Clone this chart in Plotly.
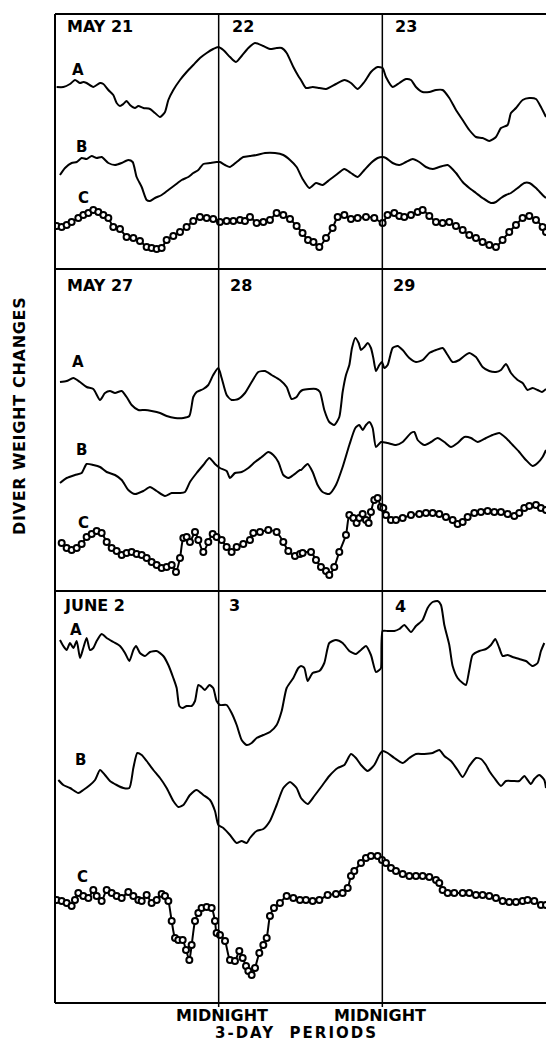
import plotly.graph_objects as go

# Diver weight records, three 3-day periods; hours from start of each period
# Values are relative weight readings on each panel's own scale.

# ---- Period 1: May 21-23 ----
may21_a_hours = [0.24, 1.22, 2.2, 2.93, 3.67, 4.15, 4.64, 5.62, 6.6, 7.09, 7.82, 8.55, 9.04, 9.53, 10.02, 10.5, 11.0, 11.73,
                 12.22, 12.95, 13.93, 14.66, 15.4, 16.13, 16.62, 17.35, 18.33, 19.3, 20.28, 21.26, 22.24, 23.2, 23.95,
                 24.68, 25.66, 26.54, 27.37, 28.35, 29.33, 30.55, 31.52, 32.5, 33.24, 33.97, 34.95, 35.68, 36.07, 36.8,
                 37.78, 38.76, 39.74, 41.2, 42.43, 43.4, 44.38, 45.36, 46.33, 47.31, 48.04, 48.53, 49.51, 50.49, 51.47,
                 52.2, 52.93, 53.9, 54.89, 55.87, 56.84, 57.82, 58.8, 59.78, 60.75, 61.73, 62.7, 63.68, 64.66, 65.4,
                 66.37, 66.86, 67.6, 68.57, 69.55, 70.53, 71.26, 72.0]
may21_a = [182, 182, 185, 189, 186, 187, 186, 182, 186, 185, 179, 174, 166, 163, 165, 168, 164, 161,
           163, 161, 160, 156, 152, 157, 169, 179, 189, 197, 204, 211, 216, 220, 222,
           219, 212, 207, 213, 221, 226, 223, 220, 221, 221, 216, 202, 193, 189, 181,
           182, 181, 180, 185, 189, 186, 180, 187, 197, 202, 201, 192, 182, 186, 190,
           189, 182, 177, 177, 179, 179, 171, 159, 149, 139, 132, 131, 128, 132, 141,
           144, 156, 161, 169, 171, 170, 162, 152]

may21_b_hours = [0.73, 1.47, 2.44, 3.18, 3.91, 4.64, 5.38, 6.11, 6.84, 7.82, 8.8, 9.78, 10.75, 11.39, 11.97, 12.71, 13.44,
                 13.93, 14.66, 15.64, 16.62, 17.6, 18.57, 19.55, 20.28, 21.02, 21.75, 22.73, 23.7, 24.19, 24.93, 25.66,
                 26.64, 27.61, 28.59, 29.57, 30.79, 32.26, 33.48, 34.46, 35.43, 36.31, 37.29, 38.27, 39.24, 40.22,
                 41.2, 42.43, 43.4, 44.38, 45.36, 46.33, 47.31, 48.04, 48.53, 49.51, 50.49, 51.47, 52.45, 53.42, 54.4,
                 55.38, 56.35, 57.58, 58.8, 59.78, 60.75, 61.73, 62.7, 63.92, 64.66, 65.4, 66.13, 66.86, 67.84, 68.82,
                 69.55, 70.53, 71.5, 72.0]
may21_b = [94, 101, 106, 107, 111, 110, 113, 111, 112, 106, 104, 106, 109, 107, 92, 82, 69,
           68, 71, 74, 79, 84, 89, 92, 96, 99, 105, 106, 107, 107, 104, 102,
           107, 112, 113, 114, 116, 116, 114, 109, 102, 90, 81, 86, 84, 89,
           94, 100, 96, 92, 99, 106, 111, 112, 111, 106, 104, 107, 110, 107, 102,
           100, 102, 104, 96, 87, 81, 76, 71, 66, 67, 71, 74, 76, 81, 86,
           86, 81, 74, 71]

may21_c_hours = [0.24, 0.98, 1.71, 2.44, 3.42, 4.15, 4.89, 5.62, 6.35, 7.09, 7.82, 8.55, 9.53, 10.5, 11.49, 12.46, 13.44,
                 14.17, 14.91, 15.64, 16.37, 17.35, 18.33, 19.3, 20.28, 21.26, 22.24, 23.2, 24.19, 25.17, 26.15, 27.13,
                 27.86, 28.59, 29.57, 30.55, 31.52, 32.5, 33.48, 34.46, 35.43, 36.3, 37.1, 37.9, 38.76, 39.74, 40.71,
                 41.45, 42.43, 43.4, 44.38, 45.6, 46.82, 48.04, 48.77, 49.75, 50.49, 51.22, 52.2, 53.18, 53.91, 54.89,
                 55.87, 56.84, 57.82, 58.8, 59.78, 60.75, 61.73, 62.7, 63.68, 64.66, 65.63, 66.61, 67.6, 68.57, 69.55,
                 70.53, 71.5, 72.0]
may21_c = [43, 42, 44, 47, 51, 54, 56, 59, 57, 54, 51, 42, 40, 32, 31, 28, 22,
           21, 20, 21, 29, 33, 37, 42, 48, 52, 51, 50, 47, 48, 48, 49,
           48, 52, 46, 47, 49, 56, 54, 50, 43, 36, 29, 27, 22, 31, 41,
           52, 54, 50, 51, 52, 51, 46, 54, 56, 53, 52, 54, 57, 59, 53,
           47, 46, 47, 43, 39, 34, 31, 27, 24, 22, 29, 37, 44, 51, 53,
           49, 42, 37]

# ---- Period 2: May 27-29 ----
may27_a_hours = [0.73, 1.71, 2.69, 3.67, 4.64, 5.62, 6.6, 7.33, 8.06, 8.8, 9.78, 10.5, 11.24, 12.22, 13.2, 14.17, 15.4,
                 16.37, 17.6, 18.82, 19.7, 20.28, 20.77, 21.75, 22.48, 23.2, 23.95, 24.44, 25.17, 25.9, 26.88, 27.86,
                 28.84, 29.81, 30.79, 31.77, 32.99, 33.97, 34.7, 35.43, 35.92, 36.31, 37.29, 38.27, 38.85, 39.49,
                 40.22, 40.95, 41.69, 42.18, 42.67, 43.16, 43.55, 44.04, 44.53, 44.87, 45.36, 45.85, 46.33, 46.68,
                 47.07, 47.56, 47.95, 48.29, 48.78, 49.51, 50.24, 50.98, 51.96, 52.93, 53.91, 54.89, 55.87, 56.84,
                 57.58, 58.31, 59.29, 60.02, 60.75, 61.73, 62.7, 63.68, 64.66, 65.4, 66.13, 66.86, 67.84, 68.57, 69.3,
                 70.04, 70.77, 71.41, 72.0]
may27_a = [209, 210, 213, 209, 204, 202, 191, 198, 200, 198, 200, 194, 186, 181, 181, 180, 178,
           175, 173, 173, 175, 194, 199, 202, 206, 216, 223, 213, 196, 191, 192, 198,
           209, 219, 220, 216, 211, 204, 192, 194, 199, 201, 202, 202, 199, 181,
           169, 166, 174, 199, 216, 226, 243, 253, 248, 241, 244, 248, 243, 233,
           220, 226, 229, 223, 226, 243, 245, 241, 233, 229, 231, 238, 241, 243,
           236, 229, 231, 235, 238, 234, 224, 220, 219, 221, 227, 218, 211, 208, 201,
           203, 201, 199, 202]

may27_b_hours = [0.73, 1.71, 2.93, 3.91, 4.64, 5.62, 6.6, 7.58, 8.8, 9.78, 10.75, 11.73, 12.95, 13.93, 14.91, 16.13, 17.11,
                 18.33, 19.06, 19.79, 20.77, 21.75, 22.63, 23.46, 24.19, 25.17, 25.66, 26.39, 27.37, 28.35, 29.33, 30.3,
                 31.28, 32.01, 32.75, 33.48, 34.21, 34.95, 35.92, 36.07, 37.05, 37.78, 38.51, 39.24, 40.22, 41.2,
                 42.18, 43.16, 44.04, 44.62, 45.11, 45.6, 46.09, 46.58, 47.07, 47.8, 48.78, 50.0, 50.98, 52.2, 52.69,
                 53.18, 54.15, 55.13, 56.11, 57.09, 58.06, 59.04, 60.02, 61.0, 61.98, 63.2, 64.17, 65.15, 66.13, 67.11,
                 68.08, 69.06, 70.04, 70.77, 71.5, 72.0]
may27_b = [108, 113, 116, 118, 127, 126, 124, 119, 116, 111, 101, 97, 100, 104, 100, 95, 98,
           98, 99, 109, 118, 126, 133, 127, 123, 120, 113, 118, 119, 123, 129, 134,
           139, 136, 129, 116, 113, 116, 121, 121, 127, 119, 106, 99, 97, 106,
           124, 146, 163, 166, 161, 166, 169, 163, 144, 149, 148, 146, 149, 158, 159,
           151, 146, 149, 153, 149, 144, 148, 154, 153, 149, 153, 156, 158, 153, 146,
           139, 131, 125, 128, 134, 141]

may27_c_hours = [0.98, 1.71, 2.44, 3.18, 3.91, 4.64, 5.38, 6.11, 6.84, 7.58, 8.31, 9.04, 9.78, 10.5, 11.24, 11.97, 12.71,
                 13.44, 14.17, 14.91, 15.64, 16.37, 17.11, 17.74, 18.33, 18.82, 19.31, 19.79, 20.53, 21.02, 21.75,
                 22.48, 23.12, 23.7, 24.44, 25.17, 25.9, 26.64, 27.61, 28.59, 29.08, 30.06, 31.28, 32.5, 33.48, 34.21,
                 35.19, 35.92, 36.31, 37.54, 38.27, 39.0, 39.74, 40.22, 40.95, 41.69, 42.67, 43.16, 43.74, 44.23,
                 44.62, 45.11, 45.6, 45.99, 46.33, 46.82, 47.31, 47.8, 48.14, 48.53, 49.27, 50.0, 50.98, 52.2, 53.42,
                 54.4, 55.38, 56.35, 57.33, 58.31, 59.04, 59.78, 60.51, 61.49, 62.46, 63.44, 64.42, 65.4, 66.37, 67.35,
                 68.08, 68.82, 69.55, 70.53, 71.26, 72.0]
may27_c = [48, 43, 41, 43, 47, 54, 57, 60, 58, 49, 43, 40, 36, 38, 39, 37, 36,
           33, 29, 26, 23, 24, 26, 19, 33, 53, 54, 49, 59, 51, 39,
           49, 57, 54, 51, 44, 39, 44, 47, 51, 58, 59, 61, 59, 49, 40,
           35, 37, 38, 39, 31, 24, 20, 16, 24, 39, 56, 76, 73, 68,
           73, 77, 71, 68, 79, 91, 93, 84, 83, 76, 71, 71, 73, 76, 77,
           78, 78, 77, 74, 71, 67, 69, 74, 78, 79, 80, 79, 79, 77, 75,
           78, 83, 85, 86, 83, 81]

# ---- Period 3: June 2-4 ----
jun2_a_hours = [0.73, 1.22, 1.71, 2.2, 2.69, 3.18, 3.67, 4.15, 4.64, 5.13, 5.62, 6.11, 6.84, 7.58, 8.55, 9.53, 10.26, 10.9,
                11.49, 11.88, 12.46, 13.2, 13.93, 14.91, 15.88, 16.62, 17.35, 17.84, 18.23, 18.72, 19.31, 20.04, 20.53,
                21.02, 21.5, 21.99, 22.63, 23.2, 23.7, 24.19, 25.17, 25.9, 26.64, 27.37, 28.1, 28.84, 29.57, 30.55,
                31.52, 32.5, 33.24, 33.97, 34.95, 35.68, 36.07, 36.56, 37.05, 37.78, 38.76, 39.49, 40.22, 41.2, 42.18,
                43.16, 44.13, 44.87, 45.6, 46.33, 47.07, 47.56, 47.8, 48.04, 48.78, 49.76, 50.49, 51.22, 52.2, 52.93,
                53.91, 54.64, 55.38, 56.11, 56.6, 57.09, 57.82, 58.31, 59.04, 59.78, 60.26, 60.75, 61.24, 62.22, 63.2,
                63.93, 64.56, 65.15, 65.64, 66.37, 67.11, 68.08, 69.06, 70.04, 70.77, 71.26, 71.75]
jun2_a = [363, 357, 353, 360, 355, 362, 345, 355, 365, 353, 355, 362, 369, 365, 361, 357, 350, 342,
          353, 357, 350, 347, 351, 352, 347, 338, 325, 315, 297, 295, 297, 297, 302,
          318, 316, 313, 318, 315, 302, 298, 298, 290, 278, 263, 258, 260, 265, 268,
          271, 278, 292, 315, 325, 335, 337, 335, 322, 330, 332, 340, 360, 363, 360,
          352, 349, 353, 357, 348, 331, 333, 335, 372, 372, 372, 374, 378, 371, 377,
          383, 395, 401, 402, 398, 378, 358, 337, 325, 320, 318, 333, 348, 352, 354,
          358, 364, 355, 347, 348, 346, 344, 342, 337, 340, 352, 360]

jun2_b_hours = [0.49, 1.22, 2.2, 3.42, 4.15, 5.13, 5.87, 6.6, 7.33, 8.06, 9.04, 10.02, 10.9, 11.49, 12.07, 12.71, 13.44,
                14.42, 15.4, 16.37, 17.35, 18.08, 18.82, 19.79, 20.77, 21.75, 22.73, 23.46, 23.95, 24.68, 25.66, 26.64,
                27.37, 28.1, 28.59, 29.57, 30.55, 31.52, 32.5, 33.48, 34.46, 35.43, 36.07, 37.05, 38.02, 39.24, 40.22,
                41.45, 42.43, 43.4, 44.13, 44.87, 45.85, 46.82, 47.56, 48.04, 48.78, 49.76, 50.98, 51.96, 52.93, 54.15,
                55.38, 56.35, 57.09, 58.06, 59.04, 59.78, 60.75, 61.73, 62.46, 63.2, 63.68, 64.42, 65.4, 66.13, 67.11,
                68.08, 68.82, 69.3, 69.79, 70.28, 71.02, 71.75, 72.0]
jun2_b = [223, 218, 215, 210, 213, 218, 223, 233, 228, 222, 218, 215, 215, 235, 250, 248, 242,
          233, 225, 215, 202, 196, 198, 208, 213, 208, 203, 192, 178, 175, 168, 160,
          162, 160, 165, 172, 174, 182, 198, 215, 221, 215, 205, 199, 207, 218, 227,
          235, 238, 249, 245, 238, 232, 238, 248, 252, 250, 245, 240, 245, 249, 249,
          250, 253, 247, 242, 233, 226, 237, 245, 244, 238, 232, 225, 217, 222, 222,
          222, 227, 223, 219, 224, 228, 223, 215]

jun2_c_hours = [0.24, 0.98, 1.71, 2.44, 2.93, 3.42, 4.15, 4.89, 5.62, 6.11, 6.84, 7.58, 8.31, 9.04, 9.78, 10.75, 11.49,
                12.22, 12.71, 13.44, 14.17, 14.91, 15.64, 16.13, 16.62, 17.11, 17.6, 18.08, 18.72, 19.21, 19.7, 20.04,
                20.53, 21.02, 21.5, 22.24, 22.97, 23.46, 23.7, 24.19, 24.93, 25.66, 26.39, 27.03, 27.52, 28.01, 28.35,
                28.84, 29.33, 29.96, 30.55, 31.04, 31.52, 32.11, 32.99, 33.97, 34.95, 35.92, 36.8, 37.78, 38.76, 39.98,
                41.2, 42.18, 42.92, 43.4, 43.89, 44.87, 45.6, 46.33, 47.31, 47.95, 48.53, 49.27, 50.0, 50.98, 51.96,
                52.93, 53.91, 54.89, 55.87, 56.35, 56.84, 57.58, 58.55, 59.78, 60.75, 61.73, 62.7, 63.68, 64.66, 65.64,
                66.61, 67.6, 68.57, 69.3, 70.28, 71.26, 72.0]
jun2_c = [103, 102, 100, 97, 103, 110, 107, 105, 113, 107, 102, 113, 110, 107, 105, 111, 107,
          103, 102, 108, 100, 103, 109, 107, 102, 82, 65, 63, 63, 53, 43, 58,
          82, 90, 95, 96, 95, 82, 70, 68, 62, 43, 42, 52, 45, 37, 32,
          28, 35, 50, 58, 65, 87, 95, 100, 107, 105, 103, 103, 102, 103, 108,
          109, 110, 115, 127, 132, 140, 145, 147, 147, 143, 140, 135, 132, 129, 127,
          127, 127, 126, 123, 120, 113, 110, 110, 110, 110, 108, 108, 107, 105, 102,
          101, 101, 102, 103, 102, 98, 98]

panel_dates = [["MAY 21", "22", "23"], ["MAY 27", "28", "29"], ["JUNE 2", "3", "4"]]
curve_names = ["A", "B", "C"]

# ---- figure geometry (pixels) ----
W, H = 546, 1044
LEFT, TOP, BOTTOM = 55, 14, 1003
plot_h = BOTTOM - TOP
# panel boundaries from top: 14 | 269 | 591 | 1003
bounds_px = [(14, 269), (269, 591), (591, 1003)]
FONT = "DejaVu Sans"


def py(p):
    """pixel row -> paper y"""
    return (BOTTOM - p) / plot_h


def px(p):
    """pixel column -> paper x"""
    return (p - LEFT) / (W - LEFT)


fig = go.Figure()

series = [
    [(may21_a_hours, may21_a), (may21_b_hours, may21_b), (may21_c_hours, may21_c)],
    [(may27_a_hours, may27_a), (may27_b_hours, may27_b), (may27_c_hours, may27_c)],
    [(jun2_a_hours, jun2_a), (jun2_b_hours, jun2_b), (jun2_c_hours, jun2_c)],
]
yaxes = ["y", "y2", "y3"]

for i, panel in enumerate(series):
    for j, (hrs, vals) in enumerate(panel):
        is_c = j == 2
        fig.add_trace(go.Scatter(
            x=hrs, y=vals, xaxis="x", yaxis=yaxes[i],
            mode="lines+markers" if is_c else "lines",
            line=dict(color="black", width=2, shape="spline", smoothing=0.6),
            marker=dict(symbol="circle", size=6, color="white",
                        line=dict(color="black", width=2)) if is_c else None,
            showlegend=False, hoverinfo="skip", cliponaxis=True,
        ))

layout_axes = {}
for i, (t, b) in enumerate(bounds_px):
    key = "yaxis" if i == 0 else f"yaxis{i + 1}"
    layout_axes[key] = dict(
        domain=[py(b), py(t)], range=[0, b - t], anchor="x",
        showgrid=False, zeroline=False, showticklabels=False, ticks="", showline=False,
        fixedrange=True,
    )

fig.update_layout(
    width=W, height=H,
    margin=dict(l=LEFT, r=0, t=TOP, b=H - BOTTOM, pad=0),
    paper_bgcolor="white", plot_bgcolor="white",
    xaxis=dict(range=[0, 72], showgrid=False, zeroline=False, showticklabels=False,
               ticks="", showline=False, fixedrange=True, domain=[0, 1]),
    **layout_axes,
    font=dict(family=FONT, color="black"),
)

# frame and separators
frame = dict(color="black", width=2)
for p in [14, 269, 591, 1003]:
    fig.add_shape(type="line", xref="paper", yref="paper", x0=0, x1=1, y0=py(p), y1=py(p), line=frame)
fig.add_shape(type="line", xref="paper", yref="paper", x0=0, x1=0, y0=py(1003), y1=py(14), line=frame)
for h in [24, 48]:
    fig.add_shape(type="line", xref="x", yref="paper", x0=h, x1=h, y0=py(1007), y1=py(14),
                  line=dict(color="black", width=1.5))

# date labels per panel
date_pos = [[(65, 27), (230, 27), (393, 27)],
            [(65, 285), (228, 285), (391, 285)],
            [(62, 605), (227, 605), (393, 606)]]
for i in range(3):
    for k in range(3):
        x0, y0 = date_pos[i][k]
        fig.add_annotation(text=panel_dates[i][k], xref="paper", yref="paper", x=px(x0), y=py(y0),
                           xanchor="left", yanchor="middle", showarrow=False,
                           font=dict(size=16, family=FONT, weight="bold"))

# curve letters
letter_pos = [[(78, 70), (81, 147), (83, 198)],
              [(78, 362), (81, 450), (83, 523)],
              [(76, 630), (80, 760), (82, 877)]]
for i in range(3):
    for j in range(3):
        x0, y0 = letter_pos[i][j]
        fig.add_annotation(text=curve_names[j], xref="paper", yref="paper", x=px(x0), y=py(y0),
                           xanchor="center", yanchor="middle", showarrow=False,
                           font=dict(size=15, family=FONT, weight="bold"))

# bottom labels
for xc in [222, 380]:
    fig.add_annotation(text="MIDNIGHT", xref="paper", yref="paper", x=px(xc), y=py(1015),
                       xanchor="center", yanchor="middle", showarrow=False,
                       font=dict(size=16, family=FONT, weight="bold"))
fig.add_annotation(text='<span style="letter-spacing:2px">3-DAY  PERIODS</span>', xref="paper", yref="paper",
                   x=px(296), y=py(1033), xanchor="center", yanchor="middle", showarrow=False,
                   font=dict(size=15, family=FONT, weight="bold"))

# vertical axis title
fig.add_annotation(text='<span style="letter-spacing:0.7px">DIVER WEIGHT CHANGES</span>', xref="paper", yref="paper",
                   x=px(20), y=py(416), xanchor="center", yanchor="middle", showarrow=False, textangle=-90,
                   font=dict(size=16, family=FONT, weight="bold"))

fig.write_html("out.html", config={"displayModeBar": False})
